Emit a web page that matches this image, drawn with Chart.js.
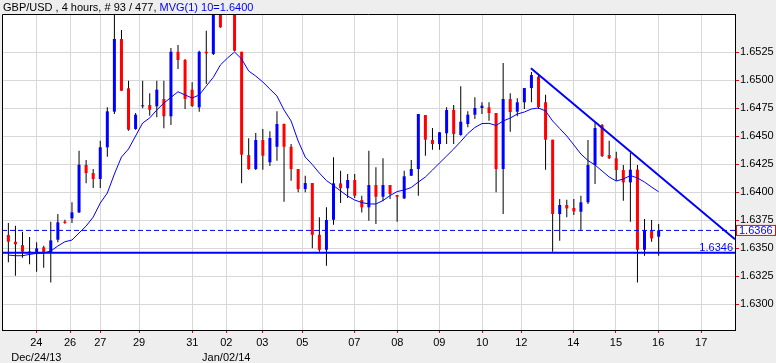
<!DOCTYPE html>
<html>
<head>
<meta charset="utf-8">
<script src="https://cdn.jsdelivr.net/npm/chart.js@4"></script>
<style>
  body { margin: 0; background: #eeeeee; }
  #chart { display: block; }
</style>
</head>
<body>
<canvas id="chart" width="776" height="363"></canvas>
<script>
// velas de 4 horas GBP/USD, indice 0..92 (la 31 no se ve)
const openP = [
  1.63619, 1.63559, 1.63529, 1.63462, 1.63449, 1.63509, 1.63464, 1.63577, 1.63738, 1.63768,
  1.63821, 1.64244, 1.64172, 1.64119, 1.64402, 1.64720, 1.65369, 1.64929, 1.64565, 1.64768,
  1.64779, 1.64768, 1.64833, 1.64679, 1.65255, 1.65181, 1.64916, 1.64759, 1.65255, 1.65235,
  1.65660, null, 1.65630, 1.65255, 1.64333, 1.64208, 1.64467, 1.64268, 1.64407, 1.64610,
  1.64407, 1.64208, 1.64029, 1.64083, 1.63621, 1.63487, 1.63755, 1.64080, 1.64036, 1.64110,
  1.63931, 1.63866, 1.64065, 1.63961, 1.64065, 1.63976, 1.63946, 1.64148, 1.64208, 1.64690,
  1.64467, 1.64431, 1.64527, 1.64737, 1.64512, 1.64610, 1.64693, 1.64753, 1.64759, 1.64708,
  1.64208, 1.64833, 1.64720, 1.64804, 1.64931, 1.65032, 1.64804, 1.64470, 1.63806, 1.63887,
  1.63860, 1.63827, 1.63911, 1.64244, 1.64601, 1.64333, 1.64304, 1.64199, 1.64089, 1.64202,
  1.63487, 1.63657, 1.63604
];
const highP = [
  1.63726, 1.63702, 1.63648, 1.63601, 1.63554, 1.63523, 1.63738, 1.63806, 1.63755, 1.63911,
  1.64371, 1.64288, 1.64208, 1.64461, 1.64759, 1.65650, 1.65449, 1.64996, 1.64708, 1.64996,
  1.64884, 1.64996, 1.64996, 1.65288, 1.65315, 1.65190, 1.64982, 1.65264, 1.65443, 1.65700,
  1.65700, null, 1.65700, 1.65255, 1.64482, 1.64529, 1.64565, 1.64545, 1.64723, 1.64615,
  1.64431, 1.64208, 1.64148, 1.64083, 1.63777, 1.63866, 1.64313, 1.64193, 1.64163, 1.64163,
  1.63970, 1.64371, 1.64223, 1.64304, 1.64065, 1.63976, 1.64193, 1.64288, 1.64699, 1.64690,
  1.64574, 1.64536, 1.64759, 1.64779, 1.64946, 1.64723, 1.64848, 1.64804, 1.64804, 1.64708,
  1.65155, 1.64884, 1.64839, 1.64931, 1.65074, 1.65047, 1.64872, 1.64470, 1.63940, 1.63934,
  1.63940, 1.63970, 1.64467, 1.64625, 1.64610, 1.64461, 1.64363, 1.64244, 1.64351, 1.64244,
  1.63762, 1.63753, 1.63717
];
const lowP = [
  1.63375, 1.63255, 1.63416, 1.63357, 1.63291, 1.63327, 1.63196, 1.63554, 1.63720, 1.63726,
  1.63815, 1.64080, 1.64038, 1.64038, 1.64318, 1.64699, 1.64904, 1.64550, 1.64559, 1.64750,
  1.64684, 1.64670, 1.64571, 1.64601, 1.65101, 1.64744, 1.64762, 1.64720, 1.64967, 1.65226,
  1.65470, null, 1.65260, 1.64080, 1.64202, 1.64199, 1.64202, 1.64235, 1.64282, 1.63916,
  1.64104, 1.64000, 1.64000, 1.63500, 1.63470, 1.63345, 1.63711, 1.63904, 1.63949, 1.63949,
  1.63821, 1.63746, 1.63717, 1.63920, 1.63940, 1.63738, 1.63940, 1.64148, 1.63970, 1.64327,
  1.64380, 1.64380, 1.64431, 1.64431, 1.64505, 1.64580, 1.64654, 1.64699, 1.64639, 1.64000,
  1.63806, 1.64541, 1.64679, 1.64744, 1.64804, 1.64744, 1.64202, 1.63470, 1.63568, 1.63777,
  1.63797, 1.63663, 1.63896, 1.64074, 1.64315, 1.64297, 1.64104, 1.63925, 1.63738, 1.63196,
  1.63434, 1.63559, 1.63434
];
const closeP = [
  1.63559, 1.63536, 1.63470, 1.63467, 1.63500, 1.63464, 1.63571, 1.63732, 1.63726, 1.63821,
  1.64246, 1.64172, 1.64119, 1.64402, 1.64723, 1.65369, 1.64907, 1.64559, 1.64693, 1.64777,
  1.64737, 1.64916, 1.64679, 1.65255, 1.65181, 1.64833, 1.64771, 1.65255, 1.65241, 1.65630,
  1.65473, null, 1.65264, 1.64336, 1.64208, 1.64467, 1.64327, 1.64485, 1.64610, 1.64407,
  1.64208, 1.64029, 1.64083, 1.63621, 1.63487, 1.63753, 1.64080, 1.64036, 1.64110, 1.63970,
  1.63866, 1.64065, 1.63961, 1.64065, 1.63985, 1.63961, 1.64143, 1.64208, 1.64699, 1.64470,
  1.64431, 1.64536, 1.64735, 1.64520, 1.64630, 1.64693, 1.64753, 1.64773, 1.64708, 1.64208,
  1.64833, 1.64717, 1.64804, 1.64931, 1.65047, 1.64762, 1.64470, 1.63806, 1.63887, 1.63857,
  1.63830, 1.63911, 1.64244, 1.64574, 1.64324, 1.64304, 1.64199, 1.64089, 1.64202, 1.63487,
  1.63657, 1.63589, 1.63660
];
// media movil MVG(1) 10
const maVals = [
  1.63440, 1.63434, 1.63434, 1.63446, 1.63455, 1.63458, 1.63476, 1.63521, 1.63559, 1.63574,
  1.63637, 1.63699, 1.63779, 1.63904, 1.63994, 1.64163, 1.64315, 1.64387, 1.64503, 1.64619,
  1.64664, 1.64735, 1.64797, 1.64847, 1.64898, 1.64869, 1.64842, 1.64869, 1.64949, 1.65027,
  1.65137, 1.65199, 1.65253, 1.65190, 1.65083, 1.65038, 1.64985, 1.64922, 1.64860, 1.64735,
  1.64637, 1.64458, 1.64315, 1.64248, 1.64172, 1.64105, 1.64061, 1.64012, 1.63967, 1.63931,
  1.63909, 1.63896, 1.63896, 1.63927, 1.63971, 1.64007, 1.64021, 1.64043, 1.64092, 1.64137,
  1.64199, 1.64262, 1.64324, 1.64387, 1.64454, 1.64525, 1.64579, 1.64614, 1.64616, 1.64597,
  1.64637, 1.64663, 1.64699, 1.64717, 1.64744, 1.64753, 1.64726, 1.64637, 1.64570, 1.64503,
  1.64423, 1.64342, 1.64284, 1.64244, 1.64190, 1.64137, 1.64101, 1.64119, 1.64150, 1.64128,
  1.64092, 1.64047, 1.64005
];
// fechas del eje x (posicion en velas)
const tickPos = [3.96, 8.73, 13.01, 18.49, 26.03, 30.83, 35.93, 41.58, 48.94, 55.02, 60.96, 67.04, 72.56, 79.92, 85.96, 91.94, 98.02];
const tickLabels = [["24", "Dec/24/13"], "26", "27", "29", "31", ["02", "Jan/02/14"], "03", "05", "07", "08", "09", "10", "12", "14", "15", "16", "17"];
const yTicks = [1.6300, 1.6325, 1.6350, 1.6375, 1.6400, 1.6425, 1.6450, 1.6475, 1.6500, 1.6525];
// lineas dibujadas a mano en el grafico
const soporte = 1.6346;
const ultimo = 1.6366;
const tendenciaX = [73.93, 102.8];
const tendenciaY = [1.65107, 1.63581];

const xMin = -0.9, xMax = 102.8;
const azul = "#0000ff";
const rojo = "#ff0000";
const fuente = '"Liberation Sans", Arial, sans-serif';

const velas = [];
const cuerpos = [];
const colores = [];
for (let i = 0; i < openP.length; i++) {
  if (openP[i] === null) continue;
  velas.push({ x: i, y: [lowP[i], highP[i]] });
  cuerpos.push({ x: i, y: [openP[i], closeP[i]] });
  colores.push(closeP[i] >= openP[i] ? azul : rojo);
}

const fondo = {
  id: "fondo",
  beforeDraw(chart) {
    const { ctx, chartArea: a } = chart;
    ctx.save();
    ctx.fillStyle = "#eeeeee";
    ctx.fillRect(0, 0, chart.width, chart.height);
    ctx.fillStyle = "#ffffff";
    ctx.fillRect(a.left, a.top, a.right - a.left, a.bottom - a.top);
    ctx.restore();
  },
  afterDraw(chart) {
    const { ctx, chartArea: a, scales } = chart;
    ctx.save();
    // marco arriba e izquierda
    ctx.strokeStyle = "#000";
    ctx.lineWidth = 1;
    ctx.beginPath();
    ctx.moveTo(a.left + 0.5, a.bottom);
    ctx.lineTo(a.left + 0.5, a.top + 0.5);
    ctx.lineTo(a.right, a.top + 0.5);
    ctx.stroke();

    // titulo
    ctx.font = "11px " + fuente;
    ctx.textBaseline = "alphabetic";
    ctx.textAlign = "left";
    const t1 = "GBP/USD , 4 hours, # 93 / 477, ";
    ctx.fillStyle = "#000";
    ctx.fillText(t1, 3, 11);
    ctx.fillStyle = azul;
    ctx.fillText("MVG(1) 10=1.6400", 3 + ctx.measureText(t1).width, 11);

    // etiqueta del soporte
    const ys = scales.y.getPixelForValue(soporte);
    ctx.textAlign = "right";
    ctx.fillText(soporte.toFixed(4), a.right - 2, ys - 1.5);

    // cuadro del ultimo precio
    const yu = scales.y.getPixelForValue(ultimo);
    ctx.fillStyle = "#fff";
    ctx.fillRect(a.right + 1, yu - 5.5, chart.width - a.right - 1, 11);
    ctx.strokeStyle = rojo;
    ctx.strokeRect(a.right + 1.5, yu - 5, chart.width - a.right - 2, 10);
    ctx.fillStyle = azul;
    ctx.textAlign = "left";
    ctx.textBaseline = "middle";
    ctx.fillText(ultimo.toFixed(4), a.right + 4, yu + 0.5);
    ctx.restore();
  }
};

const ctx = document.getElementById("chart");
new Chart(ctx, {
  type: "bar",
  data: {
    datasets: [
      {
        label: "mechas",
        data: velas,
        backgroundColor: "#000",
        barThickness: 1,
        grouped: false,
        inflateAmount: 0,
        order: 6
      },
      {
        label: "cuerpos",
        data: cuerpos,
        backgroundColor: colores,
        barThickness: 3,
        minBarLength: 1,
        grouped: false,
        inflateAmount: 0,
        order: 5
      },
      {
        type: "line",
        label: "MVG",
        data: maVals.map((v, i) => ({ x: i, y: v })),
        borderColor: azul,
        borderWidth: 1,
        pointRadius: 0,
        order: 4
      },
      {
        type: "line",
        label: "ultimo",
        data: [{ x: xMin, y: ultimo }, { x: xMax, y: ultimo }],
        borderColor: azul,
        borderWidth: 1,
        borderDash: [5, 3],
        pointRadius: 0,
        order: 3
      },
      {
        type: "line",
        label: "soporte",
        data: [{ x: xMin, y: soporte }, { x: xMax, y: soporte }],
        borderColor: azul,
        borderWidth: 2,
        pointRadius: 0,
        order: 2
      },
      {
        type: "line",
        label: "tendencia",
        data: tendenciaX.map((x, i) => ({ x, y: tendenciaY[i] })),
        borderColor: azul,
        borderWidth: 2,
        pointRadius: 0,
        order: 1
      }
    ]
  },
  options: {
    responsive: false,
    animation: false,
    layout: { padding: { left: 2, top: 14, right: 0, bottom: 0 } },
    plugins: { legend: { display: false }, tooltip: { enabled: false } },
    scales: {
      x: {
        type: "linear",
        min: xMin,
        max: xMax,
        offset: false,
        afterBuildTicks: (s) => { s.ticks = tickPos.map((v) => ({ value: v })); },
        afterFit: (s) => { s.height = 33; },
        ticks: {
          autoSkip: false,
          maxRotation: 0,
          padding: 2,
          color: "#000",
          font: { family: fuente, size: 11, lineHeight: "15px" },
          callback: (v, i) => tickLabels[i]
        },
        grid: { color: "#d8d8d8", tickColor: rojo, tickLength: 3, offset: false },
        border: { color: "#000", width: 1 }
      },
      y: {
        type: "linear",
        position: "right",
        min: 1.62771,
        max: 1.65592,
        afterBuildTicks: (s) => { s.ticks = yTicks.map((v) => ({ value: v })); },
        afterFit: (s) => { s.width = 41; },
        ticks: {
          padding: 1,
          color: "#000",
          font: { family: fuente, size: 11 },
          callback: (v) => v.toFixed(4)
        },
        grid: { color: "#d8d8d8", tickColor: rojo, tickLength: 4 },
        border: { color: "#000", width: 1 }
      }
    }
  },
  plugins: [fondo]
});
</script>
</body>
</html>
